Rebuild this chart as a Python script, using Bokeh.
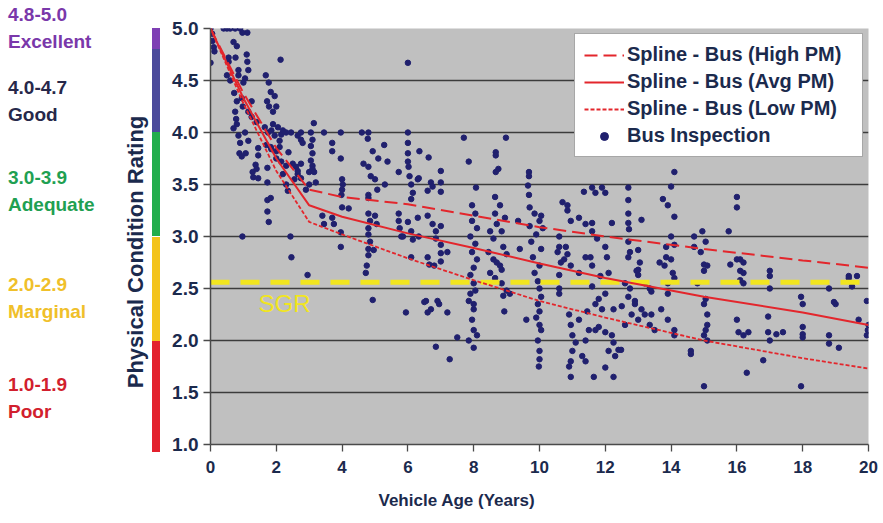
from bokeh.plotting import figure
from bokeh.layouts import row
from bokeh.models import (Range1d, FixedTicker, NumeralTickFormatter, Label, Title, Div,
                          Legend, LegendItem)
from bokeh.embed import file_html
from bokeh.resources import INLINE

# ---------------------------------------------------------------- data
# Deterioration splines (age in years -> condition rating)
spline_age = [0, 1, 2, 3, 4, 6, 8, 10, 12, 15, 18, 20]
high_pm = [5.0, 4.38, 3.85, 3.45, 3.38, 3.31, 3.20, 3.09, 3.00, 2.88, 2.77, 2.70]
avg_pm = [5.0, 4.33, 3.75, 3.30, 3.19, 3.03, 2.89, 2.74, 2.60, 2.42, 2.27, 2.15]
low_pm = [5.0, 4.28, 3.63, 3.14, 3.02, 2.79, 2.58, 2.38, 2.22, 2.00, 1.83, 1.73]

# State of good repair threshold
sgr_rating = 2.56

# Bus inspections, grouped by age band
age_new = [0.0, 0.05, 0.4, 0.5, 0.6, 0.75, 0.9, 0.97, 1.12, 0.06, 0.1, 0.12, 0.0, 0.7, 0.8, 0.55, 0.55, 0.76,
           1.1, 1.12, 1.15, 0.85, 0.85, 0.5, 0.6, 1.05, 1.0, 0.72, 0.8, 0.75, 0.95, 0.98, 0.78, 0.8, 1.15, 1.25, 1.4,
           1.68, 1.77, 1.83, 1.72, 1.78, 1.95, 2.0, 1.9, 2.13, 1.25, 0.7, 0.85, 1.05, 1.15, 0.9, 0.88, 0.95, 1.07,
           1.65, 1.75, 1.85, 1.95, 2.05, 2.15, 2.2, 1.9, 2.1, 1.7, 1.85, 2.0, 2.1, 1.83, 1.45, 1.45,
           2.0, 2.15, 2.3, 1.37, 1.28, 1.3, 1.73, 1.4, 2.2, 1.45, 1.73, 2.3, 2.35, 1.73, 1.73, 1.83, 1.77,
           0.97, 2.43, 2.46, 2.95, 2.3, 2.45, 2.65, 2.75, 2.37, 2.5, 2.65, 2.55, 2.6, 2.65, 2.75, 2.8, 2.75,
           2.75, 2.9, 3.0, 3.1]
rating_new = [5.0, 4.95, 5.0, 5.0, 5.0, 5.0, 5.0, 4.96, 4.96, 4.88, 4.82, 4.78, 4.67, 4.87, 4.83, 4.72, 4.68, 4.72,
              4.75, 4.68, 4.6, 4.6, 4.55, 4.55, 4.5, 4.52, 4.48, 4.38, 4.3, 4.2, 4.33, 4.25, 4.13, 4.08, 4.2, 4.15, 4.1,
              4.55, 4.48, 4.39, 4.3, 4.25, 4.35, 4.25, 4.2, 4.7, 4.3, 4.04, 3.97, 4.0, 3.92, 3.9, 3.8, 3.77, 3.8,
              4.05, 4.0, 4.02, 3.97, 4.05, 3.98, 4.02, 4.08, 3.92, 3.88, 3.84, 3.82, 3.86, 3.86, 3.85, 3.78,
              3.75, 3.72, 3.68, 3.69, 3.62, 3.57, 3.66, 3.65, 3.6, 3.56, 3.52, 3.5, 3.44, 3.35, 3.24, 3.37, 3.14,
              3.0, 3.0, 2.8, 2.63, 4.0, 4.0, 3.97, 3.93, 3.81, 3.7, 3.6, 3.55, 3.67, 3.63, 4.0, 3.9, 3.7,
              3.56, 3.45, 3.5, 3.68]

age_mid = [3.14, 3.05, 3.1, 3.05, 3.1, 3.05, 3.1, 3.0, 3.15, 3.2, 3.45, 3.7, 3.7, 3.96, 3.96, 4.0, 4.02, 4.0,
           3.98, 4.0, 4.2, 3.4, 3.45, 3.7, 3.75, 3.96, 3.96, 4.6, 4.8, 4.78, 4.65, 4.8, 4.87, 5.0, 4.93, 5.1,
           5.28, 5.38, 4.8, 4.8, 5.07, 5.3, 4.8, 4.85, 4.8, 4.8, 4.85, 4.8, 4.8, 4.75, 5.0, 5.05, 4.96, 4.72,
           4.93, 5.72, 5.72, 5.72, 5.75, 5.8, 6.0, 6.0, 6.0, 6.0, 6.0, 6.02, 6.05, 6.1, 6.15, 6.1, 6.0, 6.1,
           5.85, 6.15, 6.1, 5.94, 6.35, 6.33, 6.3, 6.33, 6.63, 6.7, 6.75, 6.6, 6.3, 6.6, 6.75, 7.0, 6.85, 7.0,
           7.0, 7.0, 6.85, 7.0, 7.2, 6.8, 6.6, 6.65, 7.0, 7.0, 6.55, 6.6, 6.9, 7.2, 6.5, 6.7, 6.95, 6.85,
           7.27, 7.5, 7.7, 7.85]
rating_mid = [4.09, 4.0, 3.93, 3.87, 3.8, 3.73, 3.65, 3.62, 3.62, 3.52, 4.0, 3.9, 3.82, 4.0, 3.75, 3.55, 3.5, 3.45,
              3.4, 3.28, 3.27, 3.2, 3.12, 3.18, 3.12, 3.04, 2.9, 4.0, 4.0, 3.94, 3.7, 3.67, 3.58, 3.55, 3.82, 3.75,
              3.88, 3.72, 3.4, 3.37, 3.45, 3.5, 3.22, 3.15, 3.08, 3.02, 2.95, 2.88, 2.82, 2.72, 3.2, 3.12, 2.87, 2.65,
              2.39, 3.62, 3.22, 3.15, 3.08, 3.0, 4.67, 4.0, 3.9, 3.8, 3.72, 3.67, 3.58, 3.5, 3.42, 3.36, 3.14, 3.05,
              3.0, 2.97, 2.8, 2.27, 3.82, 3.56, 3.18, 3.0, 3.76, 3.52, 3.48, 3.44, 3.55, 3.2, 3.12, 3.1, 3.05, 3.63,
              3.52, 3.43, 2.98, 2.92, 2.85, 2.72, 2.8, 2.73, 2.84, 2.76, 2.38, 2.27, 2.38, 2.27, 2.37, 2.3, 2.35, 1.94,
              1.82, 2.03, 3.95, 3.72]

age_older = [8.07, 7.95, 8.05, 7.95, 8.1, 7.9, 8.05, 7.95, 8.1, 8.0, 7.9, 8.0, 8.05, 7.9, 8.0, 7.85, 8.0, 7.95,
             8.0, 7.85, 8.1, 8.0, 8.67, 8.67, 8.67, 8.75, 8.98, 8.65, 8.8, 8.65, 8.95, 8.7, 8.85, 8.6, 8.9, 9.0,
             8.7, 8.85, 8.65, 8.5, 8.45, 8.6, 8.8, 8.5, 8.85, 9.0, 9.1, 8.9, 8.93, 9.35, 9.4, 9.68, 9.68, 9.65,
             9.68, 9.6, 9.7, 9.85, 10.0, 9.7, 9.9, 9.75, 10.05, 9.8, 10.0, 9.85, 10.05, 10.1, 9.95, 10.0, 10.05,
             9.95, 10.0, 9.9, 10.0, 10.05, 9.95, 10.0, 10.0, 9.98, 10.7, 10.85, 10.85, 10.95, 10.6, 10.6, 10.65,
             10.6, 10.8, 10.85, 10.6, 10.6, 10.55, 10.75, 10.95, 11.2, 10.9, 10.95, 11.0, 11.1, 11.0, 11.3, 11.4,
             11.5, 11.2, 11.45, 10.95, 10.95, 10.9, 11.4, 11.2, 11.35, 11.4, 11.4]
rating_older = [3.47, 3.3, 3.22, 3.15, 3.08, 3.0, 2.93, 2.85, 2.78, 2.7, 2.63, 2.55, 2.48, 2.45, 2.35, 2.38, 2.3, 2.2,
                2.1, 2.0, 2.05, 1.93, 3.81, 3.78, 3.62, 3.65, 3.95, 3.38, 3.3, 3.22, 3.18, 3.12, 3.05, 2.98, 2.9, 2.83,
                2.75, 2.68, 2.6, 3.05, 2.85, 2.78, 2.72, 2.65, 2.55, 2.48, 2.45, 2.43, 2.28, 3.15, 2.88, 3.62, 3.58, 3.49,
                3.4, 2.2, 3.28, 3.22, 3.15, 3.1, 3.02, 2.95, 2.88, 2.8, 2.72, 2.65, 3.2, 3.08, 2.57, 2.5, 2.42,
                2.35, 2.28, 2.22, 2.15, 2.1, 2.0, 1.9, 1.82, 1.75, 3.33, 3.3, 3.25, 3.15, 3.0, 2.9, 2.75,
                2.63, 2.9, 2.83, 2.5, 2.45, 2.85, 2.78, 2.72, 2.65, 2.25, 2.15, 2.05, 1.98, 1.9, 1.85, 2.0,
                2.1, 2.2, 2.28, 1.8, 1.65, 1.75, 1.8, 3.18, 3.43, 3.12, 2.8]

age_old = [11.6, 11.7, 11.9, 12.0, 12.2, 11.6, 11.6, 11.75, 12.0, 12.05, 11.6, 12.1, 11.55, 11.85, 11.6, 12.0,
           11.7, 12.25, 11.8, 11.9, 11.8, 12.0, 12.2, 12.25, 12.1, 12.0, 12.25, 12.4, 11.65, 12.3, 11.7,
           12.7, 12.7, 12.7, 12.7, 12.72, 12.7, 12.75, 12.7, 13.0, 13.05, 13.0, 13.1, 12.95, 13.0,
           12.6, 12.75, 12.7, 13.2, 13.35, 13.4, 12.9, 13.1, 13.2, 12.9, 12.8, 13.0, 13.4, 13.35, 13.5, 12.6,
           12.5, 12.48, 13.75, 13.9, 14.1, 14.0, 14.1, 14.0, 13.85, 14.1, 13.65, 13.85, 14.05, 14.1, 14.0, 13.8,
           13.9, 13.9, 13.7, 13.9, 14.1, 14.1, 14.7, 14.95, 14.7, 15.05, 14.9, 15.0, 15.0, 15.1,
           14.8, 15.05, 15.0, 15.1, 15.1, 15.05, 15.0, 15.1, 14.6, 14.6, 15.0]
rating_old = [3.47, 3.42, 3.47, 3.42, 3.13, 3.13, 3.05, 2.98, 2.9, 2.8, 2.72, 2.65, 2.8, 2.62, 2.52, 2.45,
              2.35, 2.3, 2.4, 2.3, 2.13, 2.08, 2.05, 1.98, 1.9, 1.74, 1.65, 1.91, 1.65, 1.85, 2.1,
              3.47, 3.35, 3.22, 3.13, 3.07, 2.95, 2.85, 2.8, 2.87, 2.75, 2.68, 3.16, 2.67, 2.63,
              2.55, 2.5, 2.42, 2.55, 2.5, 2.47, 2.38, 2.3, 2.25, 2.35, 2.25, 2.2, 2.25, 2.15, 2.1, 2.15,
              2.33, 1.91, 3.36, 3.3, 3.62, 3.48, 3.19, 3.0, 2.9, 2.92, 2.75, 2.8, 2.65, 2.6, 2.78, 2.72,
              2.55, 2.45, 2.3, 2.2, 2.1, 2.05, 3.0, 3.05, 2.9, 2.95, 2.85, 2.73, 2.67, 2.72,
              2.55, 2.4, 2.35, 2.25, 2.15, 2.1, 2.05, 2.0, 1.9, 1.87, 1.56]

age_oldest = [15.75, 16.0, 16.0, 15.8, 16.1, 16.1, 16.0, 16.2, 16.2, 16.1, 16.2, 16.0, 16.05, 16.2, 16.35, 16.3,
              17.0, 17.0, 17.0, 16.8, 16.95, 16.95, 17.2, 17.4, 17.0, 17.95, 18.0, 18.0, 18.0, 18.0, 17.95,
              18.8, 18.95, 19.0, 18.8, 18.8, 19.1, 19.4, 19.65, 19.4, 19.5, 19.7, 19.95, 20.0, 19.98, 19.95]
rating_oldest = [3.05, 3.38, 3.28, 2.73, 2.78, 2.67, 2.78, 2.75, 2.65, 2.58, 2.55, 2.2, 2.08, 2.05, 2.08, 1.69,
                 2.67, 2.62, 2.5, 1.81, 2.23, 2.08, 2.06, 2.08, 2.0, 2.42, 2.35, 2.13, 2.06, 2.03, 1.56,
                 2.5, 2.37, 2.35, 2.05, 1.97, 1.93, 2.62, 2.62, 2.6, 2.52, 2.2, 2.38, 2.15, 2.1, 2.05]

bus_age = age_new + age_mid + age_older + age_old + age_oldest
bus_rating = rating_new + rating_mid + rating_older + rating_old + rating_oldest

# Condition scale shown beside the rating axis
band_bottom = [0.93, 2.0, 3.0, 4.0, 4.8]
band_top = [2.0, 3.0, 4.0, 4.8, 5.0]
band_colors = ["#e3212d", "#f3c31c", "#22ad4c", "#4b4a9b", "#7e3fb4"]
band_ranges = ["1.0-1.9", "2.0-2.9", "3.0-3.9", "4.0-4.7", "4.8-5.0"]
band_names = ["Poor", "Marginal", "Adequate", "Good", "Excellent"]
band_text_colors = ["#d21f2e", "#f0c02a", "#1fa052", "#27284a", "#7a38aa"]
band_text_y = [385, 285, 178, 88, 15]          # vertical centre of the range text, px from top

# ---------------------------------------------------------------- layout
W, H = 883, 523
KEY_W = 165                                     # width of the left key column
FL, FR, FT, FB = 210, 868, 28, 445              # plot frame edges in the page, px
X0, X1, Y0, Y1 = 0, 20, 1.0, 5.0
BAR_L, BAR_W = 152, 8                           # colour scale strip, px

NAVY = "#1b2a4d"
FONT = "Liberation Sans"


def rating_to_px(r):
    """Vertical page position of a rating on the chart's rating scale."""
    return FT + (Y1 - r) / (Y1 - Y0) * (FB - FT)


# ---- key column: rating categories, colour scale and rating-axis title
LINE_H = 22
html = ['<div style="position:relative;width:%dpx;height:%dpx;font-family:\'%s\';'
        'font-weight:bold;font-size:19px;line-height:%dpx;">' % (KEY_W, H, FONT, LINE_H)]
for rng, name, col, cy in zip(band_ranges, band_names, band_text_colors, band_text_y):
    for txt, centre in ((rng, cy), (name, cy + 27)):
        html.append('<div style="position:absolute;left:8px;top:%dpx;color:%s;white-space:nowrap;">%s</div>'
                    % (centre - LINE_H // 2, col, txt))
for lo, hi, col in zip(band_bottom, band_top, band_colors):
    top = rating_to_px(hi)
    html.append('<div style="position:absolute;left:%dpx;top:%.1fpx;width:%dpx;height:%.1fpx;'
                'background:%s;"></div>' % (BAR_L, top, BAR_W, rating_to_px(lo) - top, col))
html.append('<div style="position:absolute;left:136px;top:252px;white-space:nowrap;font-size:22px;'
            'line-height:24px;color:%s;transform:translate(-50%%,-50%%) rotate(-90deg);">'
            'Physical Condition Rating</div>' % NAVY)
html.append('</div>')
key = Div(text="".join(html), width=KEY_W, height=H, margin=(0, 0, 0, 0))

# ---- main chart
p = figure(width=W - KEY_W, height=H, x_range=Range1d(X0, X1), y_range=Range1d(Y0, Y1),
           output_backend="svg", toolbar_location=None,
           min_border_left=FL - KEY_W, min_border_right=W - FR,
           min_border_top=FT, min_border_bottom=H - FB)
p.background_fill_color = "#c0c0c0"
p.border_fill_color = "white"
p.outline_line_color = None

rating_ticks = [1.0, 1.5, 2.0, 2.5, 3.0, 3.5, 4.0, 4.5, 5.0]
p.xgrid.visible = False
p.ygrid.ticker = FixedTicker(ticks=rating_ticks)
p.ygrid.grid_line_color = "#3c3c3c"
p.ygrid.grid_line_width = 1.4

p.yaxis.ticker = FixedTicker(ticks=rating_ticks)
p.yaxis.formatter = NumeralTickFormatter(format="0.0")
p.xaxis.ticker = FixedTicker(ticks=list(range(0, 21, 2)))
for ax in (p.xaxis, p.yaxis):
    ax.axis_line_color = "#4a4a4a"
    ax.axis_line_width = 1.5
    ax.major_tick_line_color = "#4a4a4a"
    ax.major_tick_line_width = 1.3
    ax.major_tick_out = 7
    ax.major_tick_in = 0
    ax.minor_tick_line_color = None
    ax.major_label_text_color = NAVY
    ax.major_label_text_font = FONT
    ax.major_label_text_font_style = "bold"
p.yaxis.major_label_text_font_size = "19px"
p.yaxis.major_label_standoff = 5
p.xaxis.major_label_text_font_size = "17px"
p.xaxis.major_label_standoff = 9

# age-axis title, placed from the start of the bottom edge
p.add_layout(Title(text="Vehicle Age (Years)", align="left", offset=168,
                   text_font=FONT, text_font_style="bold", text_font_size="17px",
                   text_color=NAVY, standoff=27), "below")

# ---------------------------------------------------------------- marks
dots = p.scatter(bus_age, bus_rating, size=5.5, color="#20206e")

p.line([X0, X1], [sgr_rating, sgr_rating], line_color="#f1e51f",
       line_width=5, line_dash="19 11")
p.add_layout(Label(x=1.46, y=2.36, text="SGR", text_color="#f1e51f",
                   text_font=FONT, text_font_size="24px",
                   text_baseline="middle", text_align="left"))

RED = "#e3262c"
high = p.line(spline_age, high_pm, line_color=RED, line_width=2, line_dash="13 6")
avg = p.line(spline_age, avg_pm, line_color=RED, line_width=2)
low = p.line(spline_age, low_pm, line_color=RED, line_width=1.8, line_dash="4 2")

legend = Legend(items=[
    LegendItem(label="Spline - Bus (High PM)", renderers=[high]),
    LegendItem(label="Spline - Bus (Avg PM)", renderers=[avg]),
    LegendItem(label="Spline - Bus (Low PM)", renderers=[low]),
    LegendItem(label="Bus Inspection", renderers=[dots]),
], location="top_right", margin=5)
legend.background_fill_color = "white"
legend.background_fill_alpha = 1.0
legend.border_line_color = "#505050"
legend.border_line_width = 1.2
legend.label_text_font = FONT
legend.label_text_font_style = "bold"
legend.label_text_font_size = "20px"
legend.label_text_color = NAVY
legend.glyph_width = 40
legend.glyph_height = 20
legend.label_height = 20
legend.label_width = 226
legend.spacing = 4
legend.padding = 9
legend.label_standoff = 3
p.add_layout(legend)

open("out.html", "w").write(file_html(row(key, p, spacing=0), INLINE))
